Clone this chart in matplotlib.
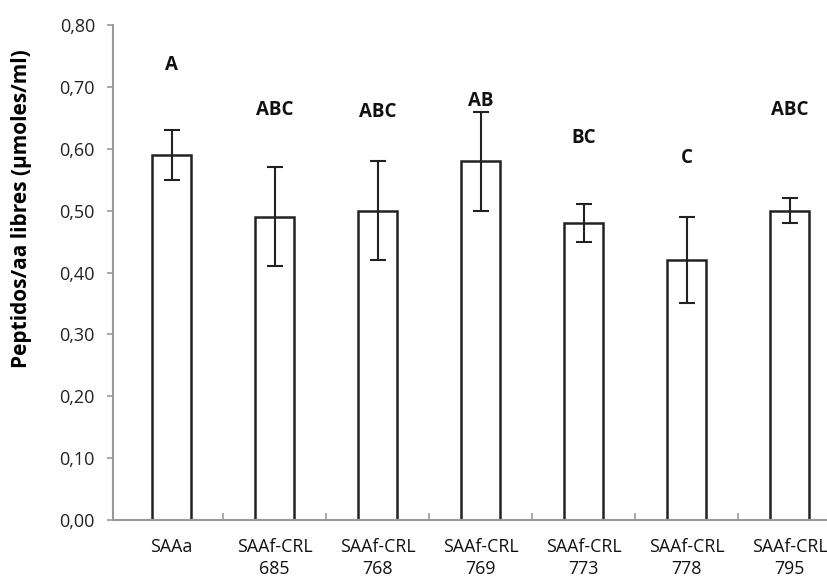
import numpy as np
import matplotlib.pyplot as plt
from matplotlib.ticker import FuncFormatter, MultipleLocator

# Data
categories = ['SAAa', 'SAAf-CRL\n685', 'SAAf-CRL\n768', 'SAAf-CRL\n769',
              'SAAf-CRL\n773', 'SAAf-CRL\n778', 'SAAf-CRL\n795']
means = [0.59, 0.49, 0.50, 0.58, 0.48, 0.42, 0.50]
errors = [0.04, 0.08, 0.08, 0.08, 0.03, 0.07, 0.02]
letters = ['A', 'ABC', 'ABC', 'AB', 'BC', 'C', 'ABC']
letter_y = [0.735, 0.663, 0.660, 0.677, 0.617, 0.585, 0.663]

plt.rcParams['font.family'] = ['Open Sans', 'DejaVu Sans']

fig = plt.figure(figsize=(8.27, 5.83), dpi=100)
ax = fig.add_axes([0.1366, 0.108, 0.8634, 0.849])

x = np.arange(len(categories))
ax.bar(x, means, width=0.38, color='white', edgecolor='#222222', linewidth=1.8,
       yerr=errors, error_kw=dict(ecolor='#222222', elinewidth=1.5, capsize=6, capthick=1.5))

for xi, lab, ly in zip(x, letters, letter_y):
    ax.text(xi, ly, lab, ha='center', va='center', fontsize=13.5, fontweight='bold', color='#111111')

ax.set_xlim(-0.57, 6.36)
ax.set_ylim(0, 0.80)
ax.yaxis.set_major_locator(MultipleLocator(0.10))
ax.yaxis.set_major_formatter(FuncFormatter(lambda v, p: f'{v:.2f}'.replace('.', ',')))

ax.set_xticks(x)
ax.set_xticklabels(categories, fontsize=12.8, color='#111111', linespacing=1.25)
ax.tick_params(axis='x', which='major', length=0, pad=13)
ax.set_xticks(x[:-1] + 0.5, minor=True)
ax.tick_params(axis='x', which='minor', direction='in', length=5, color='#999999', width=1.2)
ax.tick_params(axis='y', direction='out', length=4, color='#999999', width=1.2,
               labelsize=13, labelcolor='#222222', pad=9)

for s in ['top', 'right']:
    ax.spines[s].set_visible(False)
for s in ['left', 'bottom']:
    ax.spines[s].set_color('#999999')
    ax.spines[s].set_linewidth(1.5)

ax.set_ylabel('Peptidos/aa libres (µmoles/ml)', fontsize=15, fontweight='bold')
ax.yaxis.set_label_coords(-0.113, 0.63)

fig.savefig('out.png', dpi=100)
